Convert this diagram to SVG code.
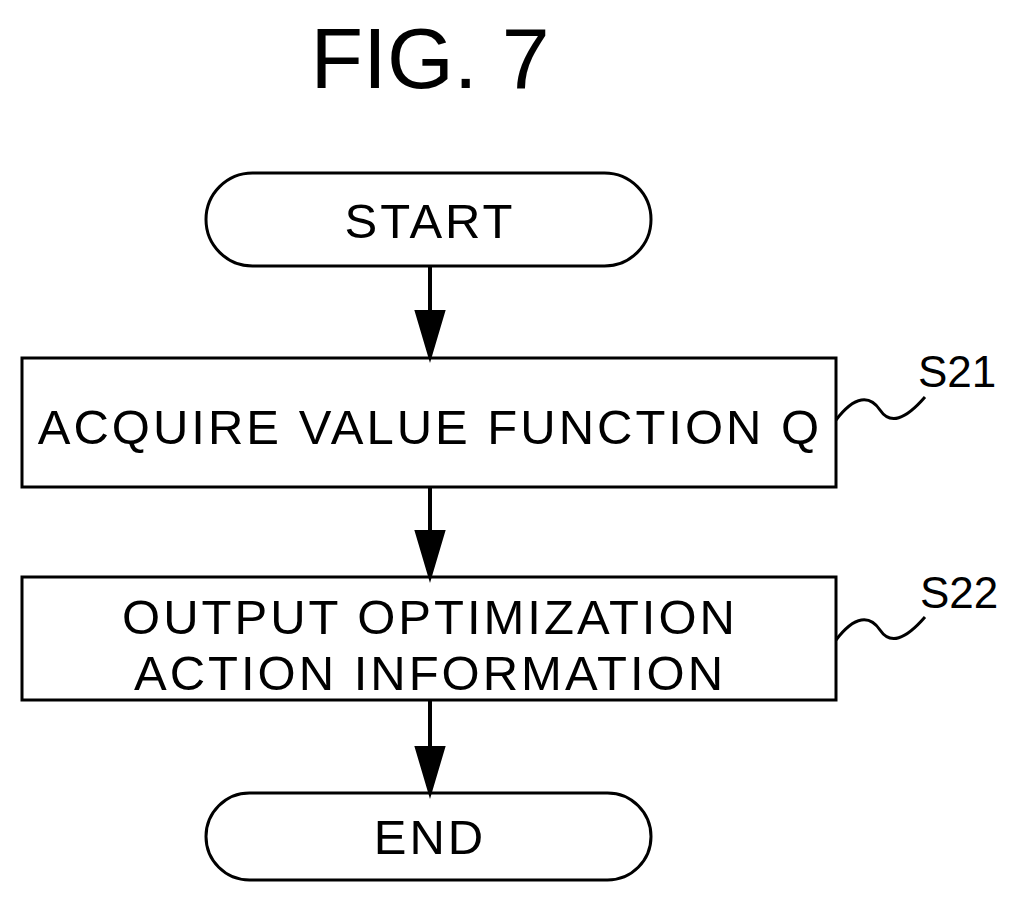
<svg xmlns="http://www.w3.org/2000/svg" width="1031" height="910" viewBox="0 0 1031 910">
<style>
.s{fill:none;stroke:#000;stroke-width:3}
.t{font-family:"Liberation Sans",Arial,sans-serif;font-size:49px;text-anchor:middle;letter-spacing:3px}
.l{font-family:"Liberation Sans",Arial,sans-serif;font-size:44px}
</style>
<rect width="1031" height="910" fill="#fff"/>
<text x="430" y="88" font-family="Liberation Sans,Arial,sans-serif" font-size="86" text-anchor="middle">FIG. 7</text>
<g id="start"><rect class="s" x="206" y="173" width="445" height="93" rx="46.5"/><text class="t" x="430" y="238">START</text></g>
<g id="s21"><rect class="s" x="22" y="358" width="814" height="129"/><text class="t" x="430" y="444">ACQUIRE VALUE FUNCTION Q</text>
<text class="l" x="918" y="387">S21</text><path class="s" d="M836,420 C855,395 870,395 880,410 C890,425 905,420 925,397" stroke-width="2"/></g>
<g id="s22"><rect class="s" x="22" y="577" width="814" height="123"/><text class="t" x="430" y="634">OUTPUT OPTIMIZATION</text><text class="t" x="430" y="690">ACTION INFORMATION</text>
<text class="l" x="920" y="608">S22</text><path class="s" d="M836,640 C855,615 870,615 880,630 C890,645 905,640 925,617" stroke-width="2"/></g>
<g id="end"><rect class="s" x="206" y="793" width="445" height="87" rx="43.5"/><text class="t" x="430" y="854">END</text></g>
<g id="connectors" stroke="#000" stroke-width="4">
<line x1="430" y1="266" x2="430" y2="312"/><path d="M417,312 L443,312 L430,356 Z"/>
<line x1="430" y1="487" x2="430" y2="532"/><path d="M417,532 L443,532 L430,576 Z"/>
<line x1="430" y1="700" x2="430" y2="748"/><path d="M417,748 L443,748 L430,792 Z"/>
</g>
</svg>
